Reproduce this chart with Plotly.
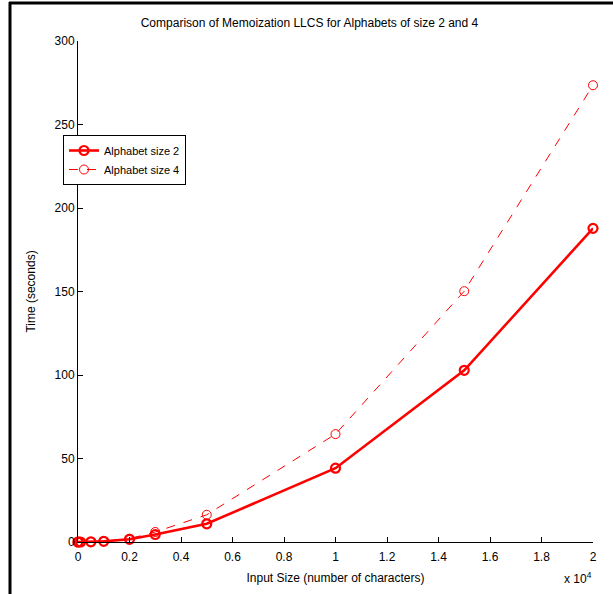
import plotly.graph_objects as go

input_size = [0, 10, 100, 500, 1000, 2000, 3000, 5000, 10000, 15000, 20000]
time_alpha2 = [0.0, 0.0, 0.0, 0.1, 0.4, 1.6, 4.5, 10.9, 44.2, 102.8, 187.8]
time_alpha4 = [0.0, 0.0, 0.0, 0.1, 0.5, 2.0, 6.0, 16.3, 64.6, 150.2, 273.5]

x_ticks = [0, 2000, 4000, 6000, 8000, 10000, 12000, 14000, 16000, 18000, 20000]
x_tick_labels = ["0", "0.2", "0.4", "0.6", "0.8", "1", "1.2", "1.4", "1.6", "1.8", "2"]
y_ticks = [0, 50, 100, 150, 200, 250, 300]

font = "Liberation Sans, Arial, Helvetica, sans-serif"

fig = go.Figure()
fig.add_trace(go.Scatter(
    x=input_size, y=time_alpha2, mode="lines+markers", name="Alphabet size 2",
    line=dict(color="#ff0000", width=2.6),
    marker=dict(symbol="circle-open", size=9, color="#ff0000", line=dict(width=2.2, color="#ff0000")),
    cliponaxis=False,
))
fig.add_trace(go.Scatter(
    x=input_size, y=time_alpha4, mode="lines+markers", name="Alphabet size 4",
    line=dict(color="#ff0000", width=1, dash="dash"),
    marker=dict(symbol="circle-open", size=9, color="#ff0000", line=dict(width=1, color="#ff0000")),
    cliponaxis=False,
))

W, H = 613, 594
L, R, T, B = 78, 20, 41, 52
pw, ph = W - L - R, H - T - B

def px(xp):
    return (xp - L) / pw

def py(yp):
    return (H - B - yp) / ph

fig.update_layout(
    width=W, height=H,
    margin=dict(l=L, r=R, t=T, b=B),
    paper_bgcolor="white", plot_bgcolor="white",
    font=dict(family=font, size=12, color="#000000"),
    title=dict(text="Comparison of Memoization LLCS for Alphabets of size 2 and 4",
               x=px(338), xanchor="center", y=1 - 23 / H, yanchor="middle",
               font=dict(size=12, family=font)),
    showlegend=True,
    legend=dict(x=px(63), y=py(135), xanchor="left", yanchor="top",
                bgcolor="white", bordercolor="black", borderwidth=1,
                font=dict(size=11, family=font), tracegroupgap=0,
                itemwidth=30),
    xaxis=dict(range=[0, 20000], tickvals=x_ticks, ticktext=x_tick_labels,
               showgrid=False, zeroline=False, showline=True, linecolor="#000000", linewidth=1,
               ticks="inside", ticklen=5, tickcolor="#000000", ticklabelstandoff=4,
               title=dict(text="Input Size (number of characters)", standoff=10, font=dict(size=12))),
    yaxis=dict(range=[0, 300], tickvals=y_ticks,
               showgrid=False, zeroline=False, showline=True, linecolor="#000000", linewidth=1,
               ticks="inside", ticklen=5, tickcolor="#000000",
               title=dict(text="Time (seconds)", standoff=16, font=dict(size=12))),
    annotations=[dict(text="x 10<sup>4</sup>", xref="paper", yref="paper",
                      x=px(578), y=py(578), xanchor="center", yanchor="middle",
                      showarrow=False, font=dict(size=12, family=font))],
    shapes=[
        dict(type="line", xref="paper", yref="paper", x0=px(9), x1=px(613), y0=py(3), y1=py(3),
             line=dict(color="black", width=3)),
        dict(type="line", xref="paper", yref="paper", x0=px(10), x1=px(10), y0=py(2), y1=py(594),
             line=dict(color="black", width=3)),
    ],
)

fig.write_html("out.html")
